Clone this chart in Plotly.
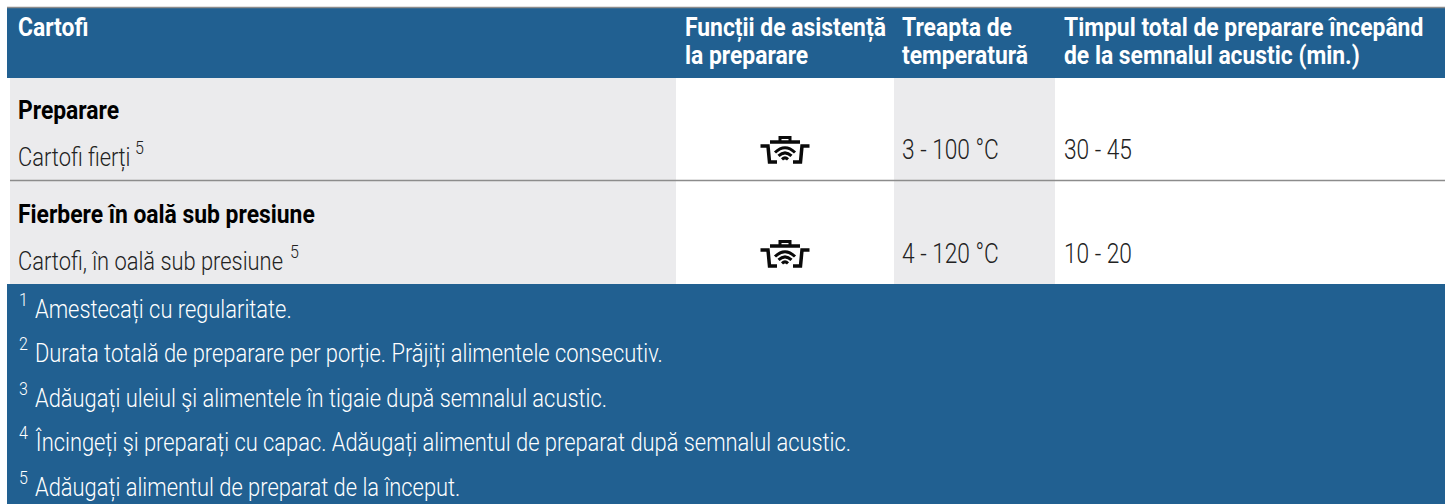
import plotly.graph_objects as go

BLUE = "#216091"
GRAY = "#EBEBED"
FONT = "Roboto"

headers = [
    ("Cartofi", 16, 27),
    ("Funcții de asistență", 683, 27),
    ("la preparare", 683, 55),
    ("Treapta de", 900, 27),
    ("temperatură", 900, 55),
    ("Timpul total de preparare începând", 1062, 27),
    ("de la semnalul acustic (min.)", 1062, 55),
]
section_titles = ["Preparare", "Fierbere în oală sub presiune"]
section_y = [110, 214]
row_labels = ["Cartofi fierți", "Cartofi, în oală sub presiune"]
row_sup_x = [133, 288]
row_y = [157, 261]
temperatures = ["3 - 100 °C", "4 - 120 °C"]
times = ["30 - 45", "10 - 20"]
temp_y = [150, 254]
icon_x = 785
icon_y = [150, 254]
footnotes = [
    "Amestecați cu regularitate.",
    "Durata totală de preparare per porție. Prăjiți alimentele consecutiv.",
    "Adăugați uleiul şi alimentele în tigaie după semnalul acustic.",
    "Încingeți şi preparați cu capac. Adăugați alimentul de preparat după semnalul acustic.",
    "Adăugați alimentul de preparat de la început.",
]
foot_marks = ["1", "2", "3", "4", "5"]
foot_y = [309, 353, 398, 442, 487]


def rect(x0, y0, x1, y1, color):
    return dict(type="rect", xref="x", yref="y", x0=x0, y0=y0, x1=x1, y1=y1,
                fillcolor=color, line_width=0, layer="below")


def hline(y, x0, x1):
    return dict(type="line", xref="x", yref="y", x0=x0, x1=x1, y0=y, y1=y,
                line=dict(color="#8C8C8C", width=1.5), layer="above")


def note(text, x, y, size, color, bold=False):
    return dict(text=text, x=x, y=y, xref="x", yref="y",
                xanchor="left", yanchor="middle", align="left", showarrow=False,
                font=dict(family=FONT, size=size, color=color, weight=700 if bold else 300))


def stroke(cx, cy, parts, width):
    path = " ".join(
        f"{c}{cx + px:.1f},{cy + py:.1f}" if c != "Q" else
        f"Q{cx + px[0]:.1f},{cy + px[1]:.1f} {cx + py[0]:.1f},{cy + py[1]:.1f}"
        for c, px, py in parts
    )
    return dict(type="path", xref="x", yref="y", path=path,
                line=dict(color="#0A0A0A", width=width), layer="above")


def icon(cx, cy):
    out = []
    out.append(stroke(cx, cy, [("M", -5, -9), ("L", -5, -12.5), ("L", 5, -12.5), ("L", 5, -9)], 3))
    out.append(stroke(cx, cy, [("M", -15, -8), ("L", 15, -8)], 3.5))
    for sign in (-1, 1):
        out.append(stroke(cx, cy, [
            ("M", sign * 24.5, -4), ("L", sign * 17, -4), ("L", sign * 15.5, 12), ("L", sign * 8, 12)
        ], 3.5))
    for r, h in ((10, -2), (6.5, 3), (3, 8)):
        out.append(stroke(cx, cy, [("M", -r, h + r * 0.45), ("Q", (0, h - r * 0.5), (r, h + r * 0.45))], 3))
    return out


shapes = [
    rect(7, 8, 1445, 78, BLUE),
    rect(10, 78, 676, 284, GRAY),
    rect(894, 78, 1055, 284, GRAY),
    rect(7, 284, 1445, 504, BLUE),
    hline(7.5, 7, 1445),
    hline(180.5, 10, 1445),
]
for y in icon_y:
    shapes.extend(icon(icon_x, y))

SZ = 26
annotations = []
for t, x, y in headers:
    annotations.append(note(t, x, y, SZ, "white", True))
for t, y in zip(section_titles, section_y):
    annotations.append(note(t, 16, y, SZ, "black", True))
for t, x, y in zip(row_labels, row_sup_x, row_y):
    annotations.append(note(t, 16, y, SZ, "#222222"))
    annotations.append(note("5", x, y - 10, 19, "#222222"))
for t, y in zip(temperatures, temp_y):
    annotations.append(note(t, 900, y, 27, "#222222"))
for t, y in zip(times, temp_y):
    annotations.append(note(t, 1062, y, 27, "#222222"))
for m, t, y in zip(foot_marks, footnotes, foot_y):
    annotations.append(note(m, 17, y - 10, 19, "white"))
    annotations.append(note(t, 33, y, SZ, "white"))

# The reference face is a condensed grotesque; none is installed, so the glyphs are narrowed.
CONDENSE = """
document.body.style.margin='0';document.body.style.overflow='hidden';
document.querySelectorAll('text.annotation-text').forEach(function(t){
  var bold = String(t.style.fontWeight) === '700';
  var s = bold ? 0.88 : 0.842;
  var x = t.getBBox().x;
  t.setAttribute('transform','translate('+x+' 0) scale('+s+' 1) translate('+(-x)+' 0)');
});
"""

fig = go.Figure()
fig.update_layout(
    width=1453, height=504, margin=dict(l=0, r=0, t=0, b=0),
    paper_bgcolor="white", plot_bgcolor="white", showlegend=False,
    xaxis=dict(range=[0, 1453], visible=False, fixedrange=True),
    yaxis=dict(range=[504, 0], visible=False, fixedrange=True),
    shapes=shapes, annotations=annotations,
)
fig.write_html("out.html", config={"displayModeBar": False}, post_script=CONDENSE)
